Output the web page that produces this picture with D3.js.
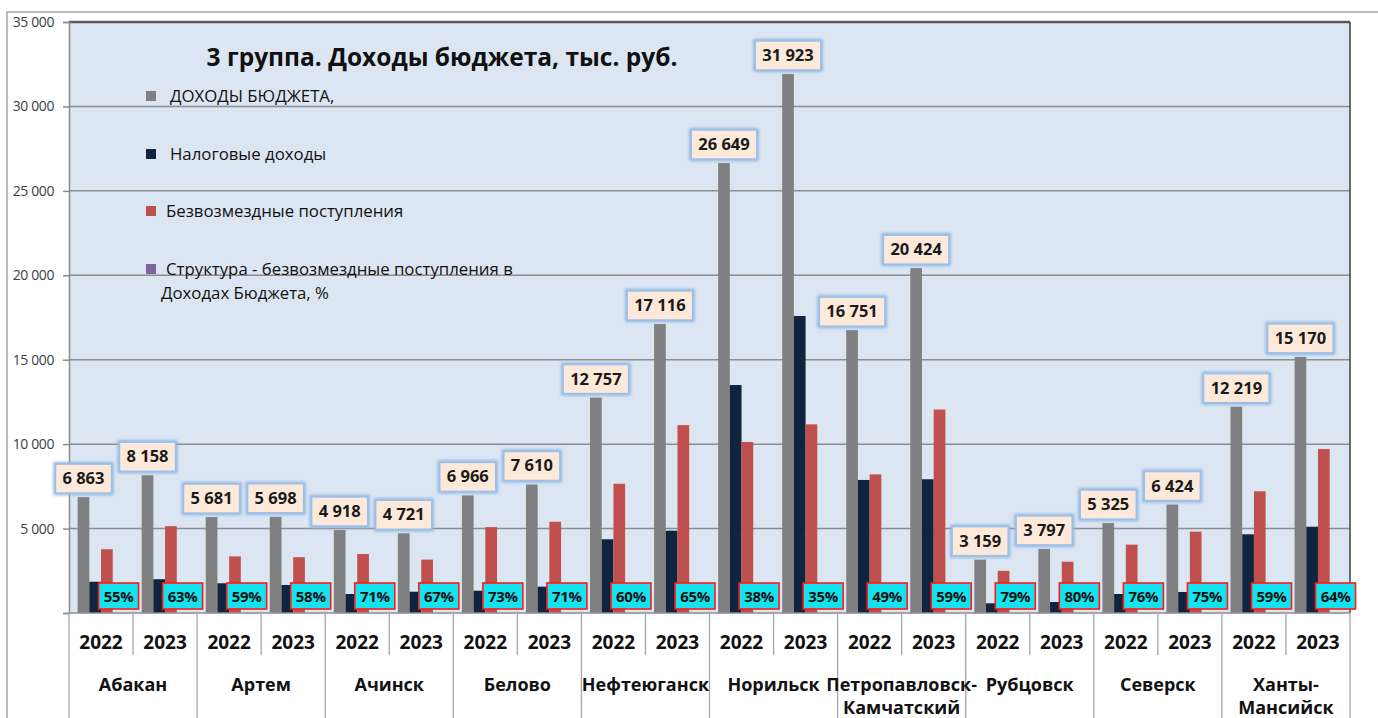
<!DOCTYPE html>
<html><head><meta charset="utf-8">
<script src="https://cdn.jsdelivr.net/npm/d3@7"></script>
<style>
html,body{margin:0;padding:0;background:#fff;}
svg{display:block;font-family:"Open Sans","Noto Sans",sans-serif;}
</style></head>
<body><svg id="c" width="1378" height="718"></svg>
<script>
const cities = ["Абакан","Артем","Ачинск","Белово","Нефтеюганск","Норильск","Петропавловск-|Камчатский","Рубцовск","Северск","Ханты-|Мансийск"];
const years = ["2022","2023"];
const seriesNames = ["ДОХОДЫ БЮДЖЕТА,","Налоговые доходы","Безвозмездные поступления","Структура - безвозмездные поступления в|Доходах Бюджета, %"];
const totalIncome = [6863,8158, 5681,5698, 4918,4721, 6966,7610, 12757,17116, 26649,31923, 16751,20424, 3159,3797, 5325,6424, 12219,15170];
const taxIncome   = [1850,2000, 1760,1660, 1125,1260, 1320,1560, 4365,4875, 13500,17590, 7880,7920, 575,650, 1125,1245, 4660,5110];
const grants      = [3775,5140, 3352,3305, 3492,3163, 5085,5403, 7654,11125, 10127,11173, 8208,12050, 2496,3038, 4047,4818, 7209,9709];
const grantShare  = [0.55,0.63, 0.59,0.58, 0.71,0.67, 0.73,0.71, 0.60,0.65, 0.38,0.35, 0.49,0.59, 0.79,0.80, 0.76,0.75, 0.59,0.64];
const yTicks = [0,5000,10000,15000,20000,25000,30000,35000];
const title = "3 группа. Доходы бюджета, тыс. руб.";

const colors = ["#808080","#10243e","#c0504d","#8064a2"];
const svg = d3.select("#c");
const L=69, R=1350, T=22, B=613;

const defs = svg.append("defs");
const f = defs.append("filter").attr("id","glow").attr("x","-30%").attr("y","-30%").attr("width","160%").attr("height","160%");
f.append("feGaussianBlur").attr("stdDeviation",1.6);

svg.append("rect").attr("x",7).attr("y",12).attr("width",1400).attr("height",720)
  .attr("fill","#fff").attr("stroke","#a6a6a6").attr("stroke-width",1.5);

const y = d3.scaleLinear().domain([0,35000]).range([B,T]);
const slots = d3.range(cities.length*years.length);
const x = d3.scaleBand().domain(slots).range([L,R]).padding(0);
const xs = d3.scaleBand().domain([0,1,2,3]).range([0,x.bandwidth()]).paddingInner(0).paddingOuter(0.737);

svg.append("rect").attr("x",L).attr("y",T).attr("width",R-L).attr("height",B-T).attr("fill","#dce6f2");

svg.append("g").selectAll("line").data(yTicks.filter(d=>d>0 && d<35000)).join("line")
  .attr("x1",L).attr("x2",R).attr("y1",d=>y(d)).attr("y2",d=>y(d))
  .attr("stroke","#8c8c8c").attr("stroke-width",1.5);
svg.append("line").attr("x1",L).attr("x2",R).attr("y1",T).attr("y2",T).attr("stroke","#595959").attr("stroke-width",2.5);
svg.append("line").attr("x1",R).attr("x2",R).attr("y1",T).attr("y2",B).attr("stroke","#404040").attr("stroke-width",1.5);

const yAxis = d3.axisLeft(y).tickValues(yTicks).tickSize(6).tickPadding(9)
  .tickFormat(d=>d===0?"":d3.format(",")(d).replace(/,/g," "));
const ga = svg.append("g").attr("transform",`translate(${L},0)`).call(yAxis);
ga.select(".domain").attr("stroke","#8c8c8c").attr("stroke-width",1.5);
ga.selectAll(".tick line").attr("stroke","#8c8c8c").attr("stroke-width",1.5);
ga.selectAll("text").attr("font-size",14).attr("fill","#404040").attr("font-family","'Open Sans',sans-serif").attr("letter-spacing","-0.4");

const allSeries = [totalIncome,taxIncome,grants,grantShare];
allSeries.forEach((arr,si)=>{
  svg.append("g").selectAll("rect").data(arr).join("rect")
    .attr("x",(d,i)=>x(i)+xs(si)).attr("width",xs.bandwidth())
    .attr("y",d=>y(d)).attr("height",d=>B-y(d)).attr("fill",colors[si]);
});

svg.append("line").attr("x1",L).attr("x2",R).attr("y1",B).attr("y2",B).attr("stroke","#8c8c8c").attr("stroke-width",1.5);

const gx = svg.append("g");
slots.forEach(i=>{
  const xx = x(i);
  const long = i%2===0;
  gx.append("line").attr("x1",xx).attr("x2",xx).attr("y1",B).attr("y2",long?718:655)
    .attr("stroke","#a6a6a6").attr("stroke-width",1.3);
});
gx.append("line").attr("x1",R).attr("x2",R).attr("y1",B).attr("y2",718).attr("stroke","#a6a6a6").attr("stroke-width",1.3);

gx.selectAll("text.yr").data(slots).join("text").attr("class","yr")
  .attr("x",i=>x(i)+x.bandwidth()/2).attr("y",649).attr("text-anchor","middle")
  .attr("font-size",19).attr("font-weight","bold").attr("fill","#111").text(i=>years[i%2]);

cities.forEach((c,ci)=>{
  const cx = x(ci*2)+x.bandwidth();
  const lines = c.split("|");
  lines.forEach((ln,li)=>{
    gx.append("text").attr("x",cx).attr("y",691+li*23).attr("text-anchor","middle")
      .attr("font-size",18).attr("font-weight","bold").attr("fill","#111").text(ln);
  });
});

const vl = svg.append("g");
totalIncome.forEach((v,i)=>{
  const cx = x(i)+xs(0)+xs.bandwidth()/2;
  const g = vl.append("g");
  const t = g.append("text").attr("x",cx).attr("y",y(v)-13).attr("text-anchor","middle")
    .attr("font-size",16.5).attr("font-weight","bold").attr("fill","#1a1a1a")
    .text(d3.format(",")(v).replace(/,/g," "));
  const w = t.node().getComputedTextLength()+14;
  const h = 29, bot = y(v)-4;
  g.insert("rect","text").attr("x",cx-w/2).attr("y",bot-h).attr("width",w).attr("height",h)
    .attr("fill","none").attr("stroke","#8db4e2").attr("stroke-width",4).attr("filter","url(#glow)");
  g.insert("rect","text").attr("x",cx-w/2).attr("y",bot-h).attr("width",w).attr("height",h)
    .attr("fill","#fde9d9").attr("stroke","#9dc0ea").attr("stroke-width",1.5);
});

const sl = svg.append("g");
grantShare.forEach((v,i)=>{
  const cx = x(i)+xs(3)+xs.bandwidth()/2;
  sl.append("rect").attr("x",cx-20).attr("y",B-30).attr("width",40).attr("height",26)
    .attr("fill","#12e3ee").attr("stroke","#ff1a1a").attr("stroke-width",1.6);
  sl.append("text").attr("x",cx).attr("y",B-11.5).attr("text-anchor","middle")
    .attr("font-size",15).attr("font-weight","bold").attr("fill","#111").attr("letter-spacing","-0.3")
    .text(Math.round(v*100)+"%");
});

svg.append("text").attr("x",442).attr("y",66).attr("text-anchor","middle")
  .attr("font-size",24.5).attr("font-weight","bold").attr("fill","#111").text(title);

const legY = [96,154,211,269];
const leg = svg.append("g");
seriesNames.forEach((n,i)=>{
  leg.append("rect").attr("x",146).attr("y",legY[i]-5).attr("width",10).attr("height",10).attr("fill",colors[i]);
  const parts = n.split("|");
  leg.append("text").attr("x",i<2?170:166).attr("y",legY[i]+6).attr("font-size",16.8).attr("fill","#111").text(parts[0]);
  if(parts[1]) leg.append("text").attr("x",161).attr("y",legY[i]+30).attr("font-size",16.8).attr("fill","#111").text(parts[1]);
});
</script></body></html>
